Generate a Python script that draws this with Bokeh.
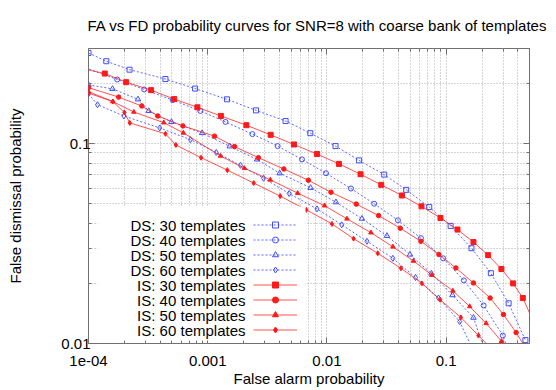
import math
from bokeh.plotting import figure
from bokeh.models import (FixedTicker, CustomJSTickFormatter, LogAxis, Label,
                          Legend, LegendItem, BoxAnnotation, Range1d)
from bokeh.embed import file_html
from bokeh.resources import INLINE

# ---------------- data ----------------
ds30_x = [1.0e-4, 1.41e-4, 2.21e-4, 4.42e-4, 7.84e-4, 1.45e-3, 2.54e-3, 4.50e-3, 7.25e-3,
          0.0118, 0.0186, 0.0302, 0.0462, 0.0721, 0.109, 0.163, 0.237, 0.334, 0.462]
ds30_y = [0.285, 0.259, 0.235, 0.211, 0.189, 0.167, 0.147, 0.130, 0.113,
          0.0974, 0.0826, 0.0701, 0.0588, 0.0482, 0.0388, 0.0300, 0.0225, 0.0159, 0.0104]

ds40_x = [7.07e-5, 1.74e-4, 2.93e-4, 5.09e-4, 8.68e-4, 1.41e-3, 2.37e-3, 3.86e-3, 6.18e-3,
          9.82e-3, 0.0159, 0.0249, 0.0394, 0.0614, 0.0944, 0.1407, 0.2062, 0.2987, 0.3307]
ds40_y = [0.2559, 0.2099, 0.1871, 0.1655, 0.1460, 0.1287, 0.1118, 0.0974, 0.0835,
          0.0712, 0.0597, 0.0501, 0.0414, 0.0337, 0.0267, 0.0207, 0.0155, 0.01096, 0.00923]

ds50_x = [1.0e-4, 1.59e-4, 2.60e-4, 3.20e-4, 4.96e-4, 8.97e-4, 1.53e-3, 2.59e-3, 4.01e-3,
          7.29e-3, 0.0119, 0.01966, 0.03185, 0.0497, 0.0753, 0.1129, 0.1694, 0.2123]
ds50_y = [0.1972, 0.1884, 0.1670, 0.1460, 0.1287, 0.1132, 0.0971, 0.0835, 0.0712,
          0.0602, 0.0510, 0.0422, 0.0346, 0.0279, 0.0224, 0.01747, 0.01347, 0.00912]

ds60_x = [1.0e-4, 1.19e-4, 1.98e-4, 3.96e-4, 7.16e-4, 1.18e-3, 1.88e-3, 2.94e-3, 4.82e-3,
          8.25e-3, 0.01331, 0.02165, 0.03575, 0.0553, 0.0862, 0.1298, 0.1717]
ds60_y = [0.1779, 0.1569, 0.1378, 0.1201, 0.1049, 0.0905, 0.0780, 0.0672, 0.0564,
          0.0472, 0.0393, 0.0325, 0.0267, 0.0214, 0.0169, 0.01287, 0.00902]

is30_x = [7.07e-5, 1.37e-4, 2.07e-4, 3.35e-4, 5.23e-4, 8.19e-4, 1.29e-3, 2.11e-3, 3.37e-3,
          5.29e-3, 8.25e-3, 0.01262, 0.01913, 0.02853, 0.04254, 0.0621, 0.0896, 0.1244,
          0.1694, 0.2249, 0.2907, 0.3643, 0.4393, 0.526]
is30_y = [0.2453, 0.2247, 0.2035, 0.1856, 0.1674, 0.1523, 0.1378, 0.1239, 0.1109,
          0.0992, 0.0889, 0.0793, 0.0704, 0.0623, 0.0551, 0.0486, 0.0425, 0.0372,
          0.0322, 0.0277, 0.0236, 0.0200, 0.0169, 0.0133]

is40_x = [1.0e-4, 1.79e-4, 2.80e-4, 3.81e-4, 6.19e-4, 1.14e-3, 1.68e-3, 2.66e-3, 4.35e-3,
          6.98e-3, 0.01081, 0.01762, 0.0271, 0.0412, 0.0614, 0.0869, 0.1206, 0.1694,
          0.2337, 0.3022, 0.3861, 0.4775]
is40_y = [0.1911, 0.1713, 0.1546, 0.1378, 0.1229, 0.1092, 0.0968, 0.0852, 0.0748,
          0.0657, 0.0572, 0.0499, 0.0437, 0.0378, 0.0325, 0.0279, 0.0239, 0.0201,
          0.0169, 0.01397, 0.01134, 0.00923]

is50_x = [1.0e-4, 1.60e-4, 2.40e-4, 4.28e-4, 6.25e-4, 1.28e-3, 2.03e-3, 3.35e-3, 5.68e-3,
          9.55e-3, 0.01472, 0.02339, 0.03575, 0.0532, 0.0759, 0.1138, 0.1574, 0.2164,
          0.2907, 0.3184]
is50_y = [0.1825, 0.1627, 0.1443, 0.1276, 0.1134, 0.0869, 0.0754, 0.0660, 0.0566,
          0.0490, 0.0421, 0.0359, 0.0305, 0.0259, 0.0220, 0.01835, 0.01533, 0.01262,
          0.01027, 0.00955]

is60_x = [1.0e-4, 1.60e-4, 2.00e-4, 2.22e-4, 4.42e-4, 5.41e-4, 8.80e-4, 1.46e-3, 2.43e-3,
          4.06e-3, 6.71e-3, 0.01102, 0.01672, 0.02668, 0.04173, 0.0626, 0.0891, 0.1328,
          0.1865, 0.2337]
is60_y = [0.1794, 0.1627, 0.1435, 0.1272, 0.1122, 0.0986, 0.0852, 0.0738, 0.0636,
          0.0547, 0.0467, 0.0397, 0.0335, 0.0283, 0.0238, 0.0200, 0.01655, 0.01351,
          0.01096, 0.00955]

series_labels = ["DS: 30 templates", "DS: 40 templates", "DS: 50 templates", "DS: 60 templates",
                 "IS: 30 templates", "IS: 40 templates", "IS: 50 templates", "IS: 60 templates"]

x_major = [1e-4, 1e-3, 1e-2, 1e-1]
x_tick_labels = ["1e-04", "0.001", "0.01", "0.1"]
x_minor = [2e-4, 3e-4, 4e-4, 5e-4, 6e-4, 7e-4, 8e-4, 9e-4,
           2e-3, 3e-3, 4e-3, 5e-3, 6e-3, 7e-3, 8e-3, 9e-3,
           2e-2, 3e-2, 4e-2, 5e-2, 6e-2, 7e-2, 8e-2, 9e-2,
           0.2, 0.3, 0.4, 0.5]
y_major = [0.01, 0.1]
y_tick_labels = ["0.01", "0.1"]
y_minor = [0.02, 0.03, 0.04, 0.05, 0.06, 0.07, 0.08, 0.09, 0.2, 0.3]

title_text = "FA vs FD probability curves for SNR=8 with coarse bank of templates"
x_label_text = "False alarm probability"
y_label_text = "False dismissal probability"

# ---------------- figure ----------------
FONT = "Liberation Sans"
BLUE = "#3f4cff"
RED = "#ff1a1a"
GRID = "#ababab"
FRAME = "#707070"

p = figure(width=556, height=390, x_axis_type="log", y_axis_type="log",
           x_range=Range1d(1e-4, 0.5), y_range=Range1d(0.01, 0.3),
           output_backend="svg", toolbar_location=None,
           min_border_left=88, min_border_right=27, min_border_top=46, min_border_bottom=47)
p.background_fill_color = "white"
p.border_fill_color = "white"
p.outline_line_color = FRAME
p.outline_line_width = 1

p.title.text = title_text
p.title.align = "left"
p.title.offset = -1
p.title.standoff = 29
p.title.text_font = FONT
p.title.text_font_size = "15px"
p.title.text_font_style = "normal"
p.title.text_color = "black"

xt = FixedTicker(ticks=x_major, minor_ticks=x_minor)
yt = FixedTicker(ticks=y_major, minor_ticks=y_minor)

fmt_code = """
for (let i = 0; i < tv.length; i++) {
  if (Math.abs(Math.log10(tick / tv[i])) < 1e-6) return tl[i];
}
return "";
"""
xf = CustomJSTickFormatter(args=dict(tv=x_major, tl=x_tick_labels), code=fmt_code)
yf = CustomJSTickFormatter(args=dict(tv=y_major, tl=y_tick_labels), code=fmt_code)
empty_fmt = CustomJSTickFormatter(code="return '';")

def style_axis(ax):
    ax.axis_line_color = None
    ax.major_tick_in = 6
    ax.major_tick_out = 0
    ax.minor_tick_in = 3
    ax.minor_tick_out = 0
    ax.major_tick_line_color = FRAME
    ax.minor_tick_line_color = FRAME
    ax.major_label_text_font = FONT
    ax.major_label_text_font_size = "15px"
    ax.major_label_text_color = "black"
    ax.axis_label_text_font = FONT
    ax.axis_label_text_font_size = "15px"
    ax.axis_label_text_font_style = "normal"
    ax.axis_label_text_color = "black"

xa = p.xaxis[0]
xa.ticker = xt
xa.formatter = xf
style_axis(xa)
xa.major_label_standoff = 12
xa.axis_label = x_label_text
xa.axis_label_standoff = 1

ya = p.yaxis[0]
ya.ticker = yt
ya.formatter = yf
style_axis(ya)
ya.major_label_standoff = -2
ya.axis_label = y_label_text
ya.axis_label_standoff = 34

for place, tk in (("above", xt), ("right", yt)):
    ax = LogAxis(ticker=tk, formatter=empty_fmt)
    style_axis(ax)
    ax.major_label_text_font_size = "1px"
    ax.major_label_standoff = 0
    p.add_layout(ax, place)

for g, tk in ((p.xgrid[0], xt), (p.ygrid[0], yt)):
    g.ticker = tk
    g.grid_line_color = GRID
    g.grid_line_dash = "1 2"
    g.grid_line_width = 1
    g.minor_grid_line_color = GRID
    g.minor_grid_line_dash = "1 2"
    g.minor_grid_line_width = 1

# ---------------- curves ----------------
series = [
    (ds30_x, ds30_y, "square", 5, True),
    (ds40_x, ds40_y, "circle", 5, True),
    (ds50_x, ds50_y, "triangle", 5.5, True),
    (ds60_x, ds60_y, "diamond", 6, True),
    (is30_x, is30_y, "square", 5, False),
    (is40_x, is40_y, "circle", 4.5, False),
    (is50_x, is50_y, "triangle", 4.5, False),
    (is60_x, is60_y, "diamond", 5, False),
]

items = []
for (xs, ys, mk, sz, dashed), lab in zip(series, series_labels):
    if dashed:
        lr = p.line(xs, ys, line_color=BLUE, line_width=1, line_dash="2 2", line_alpha=0.85)
        sr = p.scatter(xs, ys, marker=mk, size=sz, line_color=BLUE, fill_color=None, line_width=1)
    else:
        lr = p.line(xs, ys, line_color=RED, line_width=1, line_alpha=0.75)
        sr = p.scatter(xs, ys, marker=mk, size=sz, line_color=RED, fill_color=RED, line_width=1)
    items.append(LegendItem(label=" ", renderers=[lr, sr]))

# ---------------- key (opaque box, samples at right, right-aligned texts) ----------------
p.add_layout(BoxAnnotation(left=9, right=217, bottom=3, top=137,
                           left_units="screen", right_units="screen",
                           top_units="screen", bottom_units="screen",
                           fill_color="white", fill_alpha=1.0, line_color=None))

legend = Legend(items=items, location=(165, 6), orientation="vertical",
                padding=0, margin=0, spacing=0, glyph_width=44, glyph_height=15,
                label_standoff=0, label_width=0, label_height=0,
                label_text_font_size="1px",
                background_fill_alpha=0, border_line_alpha=0)
p.add_layout(legend)

for i, lab in enumerate(series_labels):
    p.add_layout(Label(x=157, y=118.5 - 15 * i, x_units="screen", y_units="screen",
                       text=lab, text_align="right", text_baseline="middle",
                       text_font=FONT, text_font_size="15px", text_color="black"))

open("out.html", "w").write(file_html(p, INLINE))
